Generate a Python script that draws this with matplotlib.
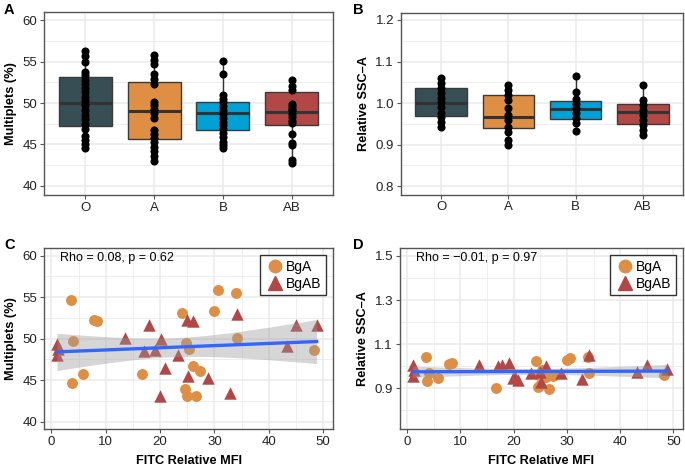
import numpy as np
import matplotlib
matplotlib.use("Agg")
import matplotlib.pyplot as plt
from matplotlib.lines import Line2D
from matplotlib.ticker import MultipleLocator, FixedLocator, FormatStrFormatter

plt.rcParams['font.family'] = ['Liberation Sans', 'DejaVu Sans']

groups = ["O", "A", "B", "AB"]
group_colors = ["#374E55", "#DF8F44", "#00A1D5", "#B24745"]

# panel A: multiplets (%) by blood group
mult_o = [56.3, 55.65, 54.97, 53.76, 53.36, 52.83, 52.35, 51.87, 51.35, 50.74, 50.26,
          49.73, 49.13, 48.53, 48.13, 47.52, 46.92, 45.99, 45.5, 45.1, 44.63]
mult_a = [55.77, 55.25, 54.77, 53.56, 52.96, 52.35, 50.14, 49.73, 49.33, 48.8, 48.25,
          46.7, 46.23, 45.83, 45.3, 44.7, 44.22, 43.57, 43.0]
mult_b = [55.05, 53.56, 50.94, 50.54, 50.14, 49.61, 49.13, 48.65, 48.25, 47.71, 47.3,
          46.92, 46.39, 45.9, 45.3, 44.9, 44.63]
mult_ab = [52.75, 52.03, 51.63, 49.94, 49.61, 49.33, 49.13, 48.73, 48.33, 47.84, 47.6,
           46.23, 45.2, 44.9, 43.17, 42.77]
mult_q1 = [47.2, 45.7, 46.7, 47.3]
mult_med = [50.05, 49.1, 48.8, 48.95]
mult_q3 = [53.2, 52.5, 50.1, 51.3]

# panel B: relative SSC-A by blood group
ssc_o = [1.0595, 1.0474, 1.0354, 1.0234, 1.0113, 1.0032, 0.991, 0.9751, 0.967, 0.955, 0.943]
ssc_a = [1.0434, 1.0313, 1.0193, 1.0072, 0.9872, 0.9711, 0.959, 0.943, 0.931, 0.911, 0.899]
ssc_b = [1.065, 1.027, 1.011, 0.999, 0.987, 0.975, 0.963, 0.951, 0.933]
ssc_ab = [1.043, 1.007, 0.995, 0.983, 0.971, 0.959, 0.947, 0.935, 0.923]
ssc_q1 = [0.969, 0.941, 0.962, 0.950]
ssc_med = [1.000, 0.967, 0.986, 0.979]
ssc_q3 = [1.036, 1.019, 1.006, 0.998]

# panels C/D: FITC relative MFI vs multiplets / SSC-A
bga_mfi = [3.56, 7.85, 8.47, 4.05, 3.8, 5.83, 16.7, 24.1, 24.7, 25.4, 26.1, 27.3,
           24.6, 25.0, 26.6, 30.0, 30.6, 34.0, 34.2, 48.3]
bga_mult = [54.65, 52.27, 52.1, 49.74, 44.67, 45.7, 45.75, 53.04, 49.46, 48.77, 46.64,
            46.04, 43.9, 43.06, 43.06, 53.28, 55.86, 55.5, 50.06, 48.57]
bga_ssc = [1.040, 1.012, 1.016, 0.968, 0.933, 0.948, 0.903, 1.025, 0.960, 0.985, 0.950,
           0.955, 0.908, 0.915, 0.897, 1.028, 1.036, 1.043, 0.968, 0.960]
bgab_mfi = [1.03, 1.28, 1.03, 13.5, 17.1, 17.9, 20.2, 19.1, 20.9, 19.9, 23.25, 24.9,
            26.1, 25.2, 28.8, 32.8, 34.2, 43.25, 45.0, 48.8]
bgab_mult = [49.33, 48.77, 48.04, 50.06, 48.5, 51.6, 49.9, 48.57, 46.4, 43.1, 48.0,
             52.27, 52.07, 45.5, 45.2, 43.4, 53.0, 49.1, 51.7, 51.7]
bgab_ssc = [1.005, 0.985, 0.957, 1.005, 1.002, 1.008, 0.950, 1.013, 0.940, 0.945, 0.968,
            0.975, 1.002, 0.930, 0.968, 0.942, 1.051, 0.975, 1.005, 0.987]

GRID = "#EBEBEB"
EDGE = "#555555"
TICK_FS = 9.5
LAB_FS = 9.2


def style_axes(ax):
    ax.set_axisbelow(True)
    ax.grid(which="major", color=GRID, lw=1.1)
    ax.grid(which="minor", color=GRID, lw=0.6)
    for s in ax.spines.values():
        s.set_color(EDGE)
        s.set_linewidth(1.0)
    ax.tick_params(which="major", length=3, color=EDGE, labelsize=TICK_FS,
                   labelcolor="#222222", pad=2)
    ax.tick_params(which="minor", length=0)


def box_panel(ax, pts, q1, med, q3, ylim, major, minor, ylabel):
    stats = []
    for p, a, m, b in zip(pts, q1, med, q3):
        stats.append(dict(med=m, q1=a, q3=b, whislo=min(p), whishi=max(p), fliers=[]))
    bp = ax.bxp(stats, positions=range(1, 5), widths=0.77, patch_artist=True,
                showcaps=False, showfliers=False,
                boxprops=dict(edgecolor="#3a3a3a", linewidth=1.0),
                medianprops=dict(color="#333333", linewidth=2.2),
                whiskerprops=dict(color="#333333", linewidth=1.0))
    for patch, c in zip(bp["boxes"], group_colors):
        patch.set_facecolor(c)
    for i, p in enumerate(pts):
        ax.scatter([i + 1] * len(p), p, s=34, color="black", zorder=4, lw=0)
    ax.set_xlim(0.4, 4.6)
    ax.set_ylim(*ylim)
    ax.set_xticks(range(1, 5))
    ax.set_xticklabels(groups)
    ax.yaxis.set_major_locator(MultipleLocator(major))
    ax.yaxis.set_minor_locator(MultipleLocator(minor))
    ax.set_ylabel(ylabel, fontsize=LAB_FS, fontweight="bold", labelpad=4)
    style_axes(ax)


def fit_band(x, y, n=100, tcrit=2.024):
    x = np.asarray(x)
    y = np.asarray(y)
    b, a = np.polyfit(x, y, 1)
    xs = np.linspace(x.min(), x.max(), n)
    resid = y - (a + b * x)
    s = np.sqrt(np.sum(resid ** 2) / (len(x) - 2))
    se = s * np.sqrt(1 / len(x) + (xs - x.mean()) ** 2 / np.sum((x - x.mean()) ** 2))
    yh = a + b * xs
    return xs, yh, yh - tcrit * se, yh + tcrit * se


def scatter_panel(ax, ya, yab, ylim, yticks, yminor, ylabel, text):
    ax.scatter(bga_mfi, ya, s=62, color="#DF8F44", marker="o", lw=0, zorder=2)
    ax.scatter(bgab_mfi, yab, s=80, color="#B24745", marker="^", lw=0, zorder=2)
    xs, yh, lo, hi = fit_band(bga_mfi + bgab_mfi, list(ya) + list(yab))
    ax.fill_between(xs, lo, hi, color="#999999", alpha=0.4, lw=0, zorder=3)
    ax.plot(xs, yh, color="#3366FF", lw=2.4, zorder=4)
    ax.set_xlim(-1.35, 51.8)
    ax.set_ylim(*ylim)
    ax.xaxis.set_major_locator(MultipleLocator(10))
    ax.xaxis.set_minor_locator(MultipleLocator(5))
    ax.yaxis.set_major_locator(FixedLocator(yticks))
    ax.yaxis.set_minor_locator(FixedLocator(yminor))
    ax.set_ylabel(ylabel, fontsize=LAB_FS, fontweight="bold", labelpad=4)
    ax.set_xlabel("FITC Relative MFI", fontsize=LAB_FS, fontweight="bold", labelpad=5)
    ax.text(0.055, 0.945, text, transform=ax.transAxes, fontsize=9, va="center", zorder=6)
    handles = [Line2D([], [], marker="o", color="#DF8F44", ls="", markersize=9),
               Line2D([], [], marker="^", color="#B24745", ls="", markersize=10)]
    leg = ax.legend(handles, ["BgA", "BgAB"], loc="upper right", fontsize=10,
                    frameon=True, fancybox=False, borderaxespad=0.5,
                    handletextpad=0.1, borderpad=0.35, labelspacing=0.2,
                    handlelength=1.4)
    leg.get_frame().set_edgecolor("black")
    leg.get_frame().set_linewidth(1.0)
    leg.set_zorder(7)
    style_axes(ax)


fig = plt.figure(figsize=(6.85, 4.68), dpi=100)
W, H = 685.0, 468.0


def add_ax(l, r, t, b):
    return fig.add_axes([l / W, 1 - b / H, (r - l) / W, (b - t) / H])


ax_a = add_ax(44, 333, 12, 195)
ax_b = add_ax(401, 683, 12.5, 194.5)
ax_c = add_ax(44, 333, 248, 429)
ax_d = add_ax(400, 683, 248, 429)

box_panel(ax_a, [mult_o, mult_a, mult_b, mult_ab], mult_q1, mult_med, mult_q3,
          (38.9, 61.0), 5, 2.5, "Multiplets (%)")
box_panel(ax_b, [ssc_o, ssc_a, ssc_b, ssc_ab], ssc_q1, ssc_med, ssc_q3,
          (0.78, 1.218), 0.1, 0.05, "Relative SSC\u2013A")
ax_b.yaxis.set_major_formatter(FormatStrFormatter("%.1f"))

scatter_panel(ax_c, bga_mult, bgab_mult, (39.1, 60.93), [40, 45, 50, 55, 60],
              [42.5, 47.5, 52.5, 57.5], "Multiplets (%)", "Rho = 0.08, p = 0.62")
scatter_panel(ax_d, bga_ssc, bgab_ssc, (0.716, 1.536), [0.9, 1.1, 1.3, 1.5],
              [0.8, 1.0, 1.2, 1.4], "Relative SSC\u2013A", "Rho = \u22120.01, p = 0.97")
ax_d.yaxis.set_major_formatter(FormatStrFormatter("%.1f"))

for lab, x, y in [("A", 4, 3), ("B", 353, 3), ("C", 4, 238), ("D", 353, 238)]:
    fig.text(x / W, 1 - y / H, lab, fontsize=10.5, fontweight="bold", va="top", ha="left")

fig.savefig("out.png", dpi=100)
